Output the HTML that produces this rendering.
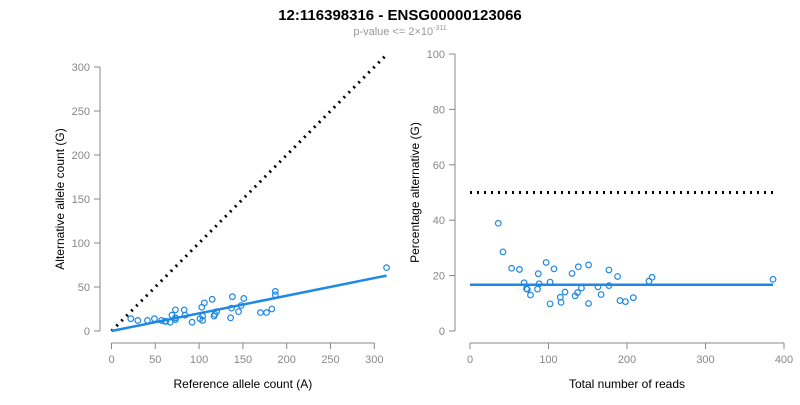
<!DOCTYPE html>
<html><head><meta charset="utf-8"><style>
body{margin:0;background:#fff;font-family:"Liberation Sans",sans-serif}
svg text{font-family:"Liberation Sans",sans-serif}
</style></head><body>
<svg id="c" width="800" height="400" xmlns="http://www.w3.org/2000/svg">
<text x="400" y="20" text-anchor="middle" font-size="15" font-weight="bold">12:116398316 - ENSG00000123066</text>
<text x="400" y="35" text-anchor="middle" font-size="11" fill="#999">p-value &lt;= 2×10<tspan dy="-5" font-size="7">-311</tspan></text>
<g id="left"></g>
<g id="right"></g>
</svg>
<script>
const refCount=[22,30,41,49,73,83,69,103,106,115,138,151,187,187,314,57,61,62,67,73,73,84,92,101,104,104,117,118,120,136,137,145,148,170,177,183];
const altCount=[14,12,12,14,24,24,18,27,32,36,39,37,45,41,72,12,11,11,10,13,15,18,10,14,12,17,17,19,22,15,26,22,29,21,21,25];
const fitPct=[16.7];
const leftXTicks=[0,50,100,150,200,250,300];
const leftXLabels=["0","50","100","150","200","250","300"];
const leftYTicks=[0,50,100,150,200,250,300];
const rightXTicks=[0,100,200,300,400];
const rightYTicks=[0,20,40,60,80,100];
const NS="http://www.w3.org/2000/svg";
function mk(p,t,a){const e=document.createElementNS(NS,t);for(const k in a)e.setAttribute(k,a[k]);p.appendChild(e);return e;}
const BLUE="#1e88e5",GRAY="#888";
const L=document.getElementById('left'),R=document.getElementById('right');
const lx=v=>111.5+v*0.876, ly=v=>331-v*0.88;
const rx=v=>470+v*0.785, ry=v=>331-v*2.77;
const total=refCount.map((r,i)=>r+altCount[i]);
const pct=total.map((t,i)=>altCount[i]/t*100);
function axes(g,xs,ys,xt,xl,yt,xmin,xmax,ymin,ymax,axX,axY,xtitle,ytitle,side){
 let e=mk(g,'line',{x1:xs(xmin),x2:xs(xmax),y1:axY,y2:axY,stroke:GRAY});
 
 xt.forEach((v,i)=>{mk(g,'line',{x1:xs(v),x2:xs(v),y1:axY,y2:axY+6,stroke:GRAY});
  const t=mk(g,'text',{x:xs(v),y:axY+20,'text-anchor':'middle','font-size':11,fill:'#888'});t.textContent=xl[i];
  });
 e=mk(g,'line',{x1:axX,x2:axX,y1:ys(ymin),y2:ys(ymax),stroke:GRAY});
 
 yt.forEach(v=>{mk(g,'line',{x1:axX,x2:axX-6,y1:ys(v),y2:ys(v),stroke:GRAY});
  const t=mk(g,'text',{x:axX-10,y:ys(v)+4,'text-anchor':'end','font-size':11,fill:'#888'});t.textContent=v;
  });
 let t=mk(g,'text',{x:(xs(xmin)+xs(xmax))/2,y:388,'text-anchor':'middle','font-size':12});t.textContent=xtitle;
 
 const cy=(ys(ymin)+ys(ymax))/2;
 t=mk(g,'text',{x:axX-36,y:cy,'text-anchor':'middle','font-size':12,transform:`rotate(-90 ${axX-36} ${cy})`});t.textContent=ytitle;
 
}
axes(L,lx,ly,leftXTicks,leftXLabels,leftYTicks,0,300,0,300,100,343,"Reference allele count (A)","Alternative allele count (G)","left");
axes(R,rx,ry,rightXTicks,rightXTicks.map(String),rightYTicks,0,400,0,100,455,343,"Total number of reads","Percentage alternative (G)","right");
const maxRef=Math.max(...refCount),maxTot=Math.max(...total);
let e=mk(L,'line',{x1:lx(0),y1:ly(0),x2:lx(maxRef),y2:ly(maxRef),stroke:'#000','stroke-width':3,'stroke-dasharray':'2 5'});

const p=fitPct[0]/100;
e=mk(L,'line',{x1:lx(0),y1:ly(0),x2:lx(maxRef),y2:ly(maxRef*p/(1-p)),stroke:BLUE,'stroke-width':2.5});

e=mk(R,'line',{x1:rx(0),y1:ry(50),x2:rx(maxTot),y2:ry(50),stroke:'#000','stroke-width':3,'stroke-dasharray':'2 5'});

e=mk(R,'line',{x1:rx(0),y1:ry(fitPct[0]),x2:rx(maxTot),y2:ry(fitPct[0]),stroke:BLUE,'stroke-width':2.5});

refCount.forEach((r,i)=>{
 const c=mk(L,'circle',{cx:lx(r),cy:ly(altCount[i]),r:2.8,fill:'none',stroke:BLUE,'stroke-width':1.2});
 
 
 const d=mk(R,'circle',{cx:rx(total[i]),cy:ry(pct[i]),r:2.8,fill:'none',stroke:BLUE,'stroke-width':1.2});
 
 
});
</script>
</body></html>
